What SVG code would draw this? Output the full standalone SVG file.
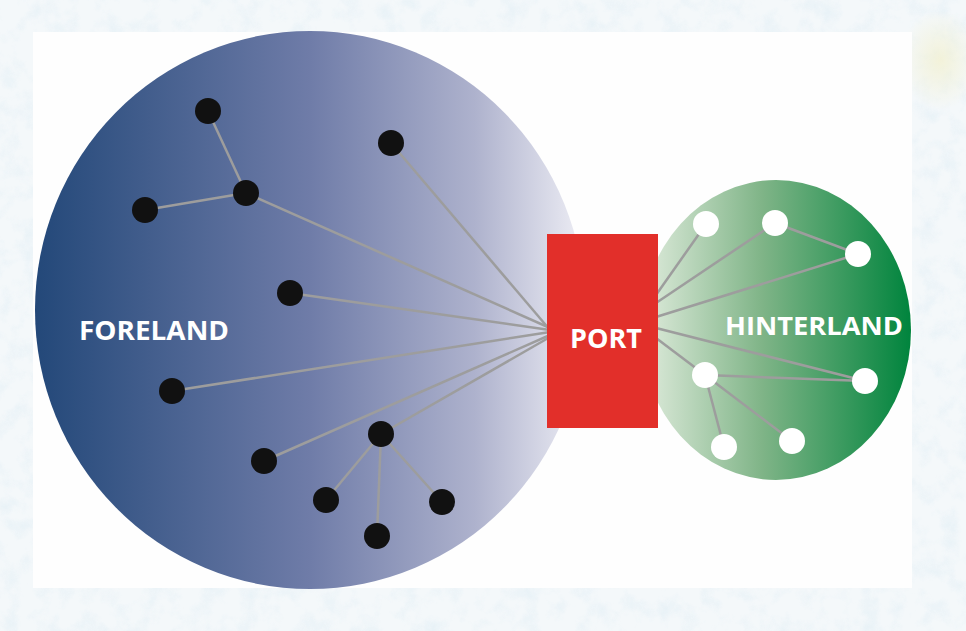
<svg xmlns="http://www.w3.org/2000/svg" width="966" height="631" viewBox="0 0 966 631">
<defs>
<linearGradient id="blueGrad" gradientUnits="userSpaceOnUse" x1="35" y1="0" x2="585" y2="0">
<stop offset="0" stop-color="#234879"/>
<stop offset="0.5" stop-color="#6f7ca8"/>
<stop offset="0.8" stop-color="#aeb2cd"/>
<stop offset="1" stop-color="#eeeef5"/>
</linearGradient>
<linearGradient id="greenGrad" gradientUnits="userSpaceOnUse" x1="641" y1="0" x2="911" y2="0">
<stop offset="0" stop-color="#e0ecdd"/>
<stop offset="0.45" stop-color="#7fb487"/>
<stop offset="1" stop-color="#00843d"/>
</linearGradient>
<radialGradient id="warm" cx="0.5" cy="0.5" r="0.5">
<stop offset="0" stop-color="#f2eec4" stop-opacity="0.6"/>
<stop offset="1" stop-color="#f2eec4" stop-opacity="0"/>
</radialGradient>
<filter id="tex" x="0" y="0" width="100%" height="100%">
<feTurbulence type="fractalNoise" baseFrequency="0.05" numOctaves="4" seed="4" result="n"/>
<feColorMatrix in="n" type="matrix" values="0 0 0 0 0.78  0 0 0 0 0.87  0 0 0 0 0.92  0 0 0 1.8 -0.8"/>
</filter>
<style>
.link{stroke:#9d9d9d;stroke-width:2.5;fill:none}
.fnode{fill:#111111}
.hnode{fill:#ffffff}
.lbl{font-family:"Open Sans","Liberation Sans",sans-serif;font-weight:bold;fill:#ffffff}
</style>
</defs>
<g id="background">
<rect x="0" y="0" width="966" height="631" fill="#f4f8fa"/>
<rect x="0" y="0" width="966" height="631" filter="url(#tex)" opacity="0.9"/>
<ellipse cx="940" cy="60" rx="40" ry="50" fill="url(#warm)"/>
<rect x="33" y="32" width="879" height="556" fill="#fefefe"/>
</g>
<g id="foreland">
<ellipse cx="310" cy="310" rx="275" ry="279" fill="url(#blueGrad)"/>
<text class="lbl" x="79" y="340" font-size="26" textLength="150" lengthAdjust="spacingAndGlyphs">FORELAND</text>
</g>
<g id="hinterland">
<ellipse cx="776" cy="330" rx="135" ry="150" fill="url(#greenGrad)"/>
<text class="lbl" x="725" y="335" font-size="25" textLength="178" lengthAdjust="spacingAndGlyphs">HINTERLAND</text>
</g>
<g id="connectors">
<line class="link" x1="208" y1="111" x2="246" y2="193"/>
<line class="link" x1="145" y1="210" x2="246" y2="193"/>
<line class="link" x1="246" y1="193" x2="550" y2="328"/>
<line class="link" x1="391" y1="143" x2="550" y2="330"/>
<line class="link" x1="290" y1="293" x2="550" y2="330"/>
<line class="link" x1="172" y1="391" x2="550" y2="332"/>
<line class="link" x1="264" y1="461" x2="550" y2="335"/>
<line class="link" x1="381" y1="434" x2="550" y2="337"/>
<line class="link" x1="381" y1="434" x2="326" y2="500"/>
<line class="link" x1="381" y1="434" x2="377" y2="536"/>
<line class="link" x1="381" y1="434" x2="442" y2="502"/>
<line class="link" x1="656" y1="295" x2="706" y2="224"/>
<line class="link" x1="656" y1="303" x2="775" y2="223"/>
<line class="link" x1="775" y1="223" x2="858" y2="254"/>
<line class="link" x1="656" y1="317" x2="858" y2="254"/>
<line class="link" x1="656" y1="328" x2="865" y2="381"/>
<line class="link" x1="656" y1="338" x2="705" y2="375"/>
<line class="link" x1="705" y1="375" x2="865" y2="381"/>
<line class="link" x1="705" y1="375" x2="724" y2="447"/>
<line class="link" x1="705" y1="375" x2="792" y2="441"/>
</g>
<g id="port">
<rect x="547" y="234" width="111" height="194" fill="#e22f2a"/>
<text class="lbl" x="570" y="348" font-size="27" textLength="72" lengthAdjust="spacingAndGlyphs">PORT</text>
</g>
<g id="f1"><circle class="fnode" cx="208" cy="111" r="13"/></g>
<g id="f2"><circle class="fnode" cx="391" cy="143" r="13"/></g>
<g id="f3"><circle class="fnode" cx="246" cy="193" r="13"/></g>
<g id="f4"><circle class="fnode" cx="145" cy="210" r="13"/></g>
<g id="f5"><circle class="fnode" cx="290" cy="293" r="13"/></g>
<g id="f6"><circle class="fnode" cx="172" cy="391" r="13"/></g>
<g id="f7"><circle class="fnode" cx="381" cy="434" r="13"/></g>
<g id="f8"><circle class="fnode" cx="264" cy="461" r="13"/></g>
<g id="f9"><circle class="fnode" cx="326" cy="500" r="13"/></g>
<g id="f10"><circle class="fnode" cx="442" cy="502" r="13"/></g>
<g id="f11"><circle class="fnode" cx="377" cy="536" r="13"/></g>
<g id="h1"><circle class="hnode" cx="706" cy="224" r="13"/></g>
<g id="h2"><circle class="hnode" cx="775" cy="223" r="13"/></g>
<g id="h3"><circle class="hnode" cx="858" cy="254" r="13"/></g>
<g id="h4"><circle class="hnode" cx="705" cy="375" r="13"/></g>
<g id="h5"><circle class="hnode" cx="865" cy="381" r="13"/></g>
<g id="h6"><circle class="hnode" cx="724" cy="447" r="13"/></g>
<g id="h7"><circle class="hnode" cx="792" cy="441" r="13"/></g>
</svg>
